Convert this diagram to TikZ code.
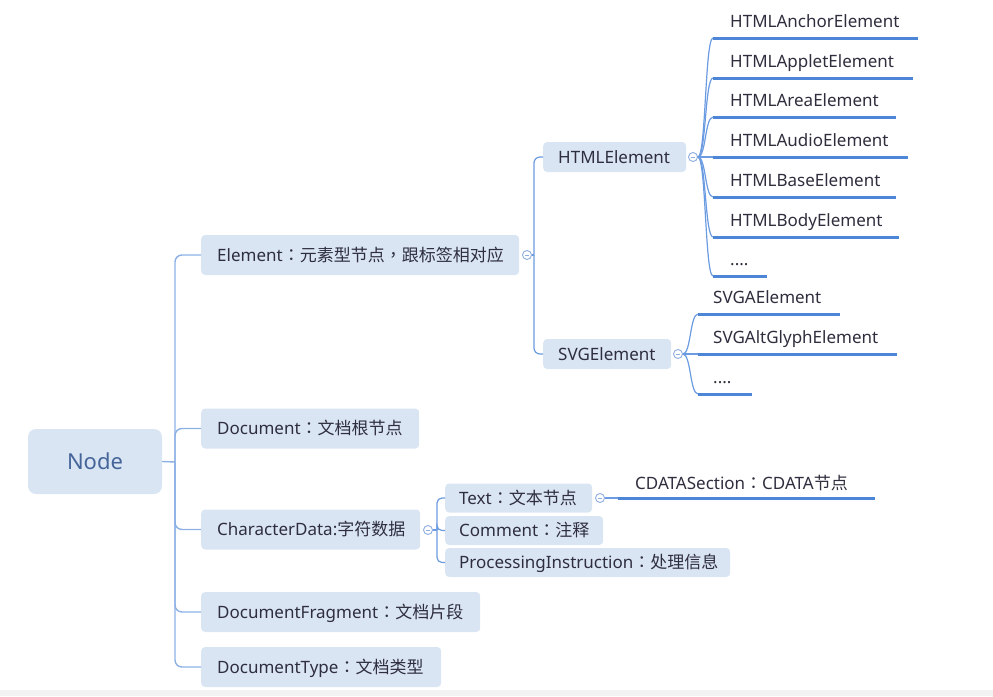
\documentclass[tikz,border=0pt]{standalone}
\usepackage{fontspec}
\setmainfont{Noto Sans}
\newfontfamily\cjk{Noto Sans CJK SC}
\newfontfamily\cjkp{Noto Sans CJK TC}
\newcommand\fcolon{{\cjkp ：}}
\newcommand\fcomma{{\cjkp ，}}
\usetikzlibrary{calc}
\definecolor{boxfill}{HTML}{DAE5F3}
\definecolor{conncol}{HTML}{6B9BE0}
\definecolor{trunkcol}{HTML}{8CB0E4}
\definecolor{ulcol}{HTML}{4D86D6}
\definecolor{circcol}{HTML}{8EAEDF}
\definecolor{txtcol}{HTML}{2E2E3E}
\definecolor{nodetxt}{HTML}{45659A}
\definecolor{stripcol}{HTML}{F2F2F2}
\begin{document}
\begin{tikzpicture}[x=1pt,y=-1pt,
  lbl/.style={font=\fontsize{17}{20}\selectfont, text=txtcol, align=left, text height=14, text depth=2},
  rootbox/.style={fill=boxfill, rounded corners=8, minimum width=134, minimum height=65, inner sep=0, font=\fontsize{22}{26}\selectfont, text=nodetxt},
  lvone/.style={lbl, fill=boxfill, rounded corners=4, anchor=west, inner xsep=16, inner ysep=0, minimum height=40, text width=#1},
  lvtwo/.style={lbl, fill=boxfill, rounded corners=4, anchor=west, inner xsep=15, inner ysep=0, minimum height=30, text width=#1},
  lvthree/.style={lbl, fill=boxfill, rounded corners=4, anchor=west, inner xsep=14, inner ysep=0, minimum height=29, text width=#1},
  leaf/.style={lbl, anchor=south west, inner xsep=17, inner ysep=0, text depth=10, text width=#1},
  sleaf/.style={lbl, anchor=south west, inner xsep=15, inner ysep=0, text depth=10, text width=#1},
  cbtn/.style={circle, draw=circcol, fill=white, line width=0.9, minimum size=9, inner sep=0,
    path picture={\draw[circcol, line width=0.6] ([xshift=-2.2pt]path picture bounding box.center) -- ([xshift=2.2pt]path picture bounding box.center);}},
  conn/.style={draw=conncol, line width=1.2},
  trunk/.style={draw=trunkcol, line width=1.4},
  uline/.style={draw=ulcol, line width=3}
]
\useasboundingbox (0,0) rectangle (993,696);
\fill[stripcol] (0,690) rectangle (993,696);

% root
\node[rootbox] (root) at (95,461.5) {Node};

% level one
\node[lvone=286] (el) at (201,255) {Element\fcolon{\cjk 元素型节点}\fcomma{\cjk 跟标签相对应}};
\node[lvone=186] (doc) at (201,428.5) {Document\fcolon{\cjk 文档根节点}};
\node[lvone=187] (cd) at (201,529.5) {CharacterData:{\cjk 字符数据}};
\node[lvone=247] (df) at (201,612) {DocumentFragment\fcolon{\cjk 文档片段}};
\node[lvone=208] (dt) at (201,667) {DocumentType\fcolon{\cjk 文档类型}};

\coordinate (tr) at (175,462);
\draw[trunk] (root.east) -- (tr);
\foreach \b in {el,doc,cd,df,dt}{\draw[trunk, rounded corners=7] (tr) |- (\b.west);}

% Element subtree
\node[cbtn] (ec) at (527,255) {};
\node[lvtwo=113] (html) at (543,157) {HTMLElement};
\node[lvtwo=98] (svg) at (543,354) {SVGElement};
\coordinate (ej) at (534,255);
\draw[conn] (ec.east) -- (ej);
\draw[conn, rounded corners=6] (ej) |- (html.west);
\draw[conn, rounded corners=6] (ej) |- (svg.west);

% HTML leaves
\node[cbtn] (hc) at (693,157) {};
\node[leaf=171] (h1) at (713,38) {HTMLAnchorElement};
\node[leaf=166] (h2) at (713,78) {HTMLAppletElement};
\node[leaf=149] (h3) at (713,117) {HTMLAreaElement};
\node[leaf=161] (h4) at (713,157) {HTMLAudioElement};
\node[leaf=149] (h5) at (713,197) {HTMLBaseElement};
\node[leaf=152] (h6) at (713,237) {HTMLBodyElement};
\node[leaf=20] (h7) at (713,276) {....};
\foreach \l in {h1,h2,h3,h4,h5,h6,h7}{
  \draw[conn] (hc.east) .. controls ($(hc.east)+(8,0)$) and ($(\l.south west)+(-8,0)$) .. (\l.south west);
  \draw[uline] (\l.south west) -- (\l.south east);
}

% SVG leaves
\node[cbtn] (sc) at (678,354) {};
\node[sleaf=112] (s1) at (698,314) {SVGAElement};
\node[sleaf=169] (s2) at (698,354) {SVGAltGlyphElement};
\node[sleaf=24] (s3) at (698,394) {....};
\foreach \l in {s1,s2,s3}{
  \draw[conn] (sc.east) .. controls ($(sc.east)+(8,0)$) and ($(\l.south west)+(-8,0)$) .. (\l.south west);
  \draw[uline] (\l.south west) -- (\l.south east);
}

% CharacterData subtree
\node[cbtn] (cc) at (428,530) {};
\node[lvthree=119] (tx) at (445,498) {Text\fcolon{\cjk 文本节点}};
\node[lvthree=130] (cm) at (445,530.5) {Comment\fcolon{\cjk 注释}};
\node[lvthree=257] (pi) at (445,562.5) {ProcessingInstruction\fcolon{\cjk 处理信息}};
\coordinate (cj) at (437,530);
\draw[conn] (cc.east) -- (cj);
\foreach \b in {tx,cm,pi}{\draw[conn, rounded corners=5] (cj) |- (\b.west);}

% Text -> CDATASection
\node[cbtn] (tc) at (600,498) {};
\node[leaf=223, text depth=8] (cdata) at (618,498) {CDATASection\fcolon CDATA{\cjk 节点}};
\draw[conn] (tc.east) -- (cdata.south west);
\draw[uline] (cdata.south west) -- (cdata.south east);
\end{tikzpicture}
\end{document}
